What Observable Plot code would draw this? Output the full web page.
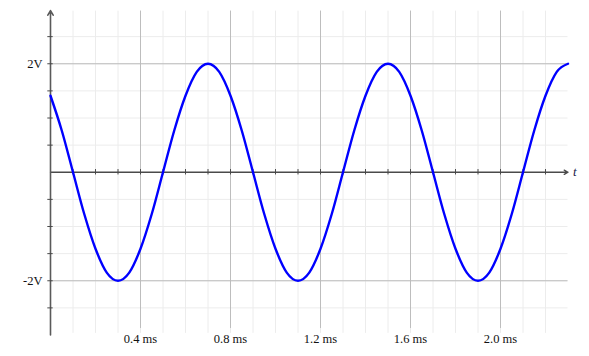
<!DOCTYPE html>
<html>
<head>
<meta charset="utf-8">
<script src="https://cdn.jsdelivr.net/npm/d3@7"></script>
<script src="https://cdn.jsdelivr.net/npm/@observablehq/plot@0.6"></script>
<style>
  html, body { margin: 0; padding: 0; background: white; }
  #chart svg { display: block; }
</style>
</head>
<body>
<div id="chart"></div>
<script>
// Time samples (ms) and voltage
const timeMs = [0, 0.05, 0.1, 0.15, 0.2, 0.25, 0.3, 0.35, 0.4, 0.45, 0.5, 0.55, 0.6, 0.65, 0.7, 0.75,
  0.8, 0.85, 0.9, 0.95, 1.0, 1.05, 1.1, 1.15, 1.2, 1.25, 1.3, 1.35, 1.4, 1.45, 1.5, 1.55,
  1.6, 1.65, 1.7, 1.75, 1.8, 1.85, 1.9, 1.95, 2.0, 2.05, 2.1, 2.15, 2.2, 2.25, 2.3];
const voltage = [1.41, 0.77, 0, -0.77, -1.41, -1.85, -2, -1.85, -1.41, -0.77, 0, 0.77, 1.41, 1.85, 2, 1.85,
  1.41, 0.77, 0, -0.77, -1.41, -1.85, -2, -1.85, -1.41, -0.77, 0, 0.77, 1.41, 1.85, 2, 1.85,
  1.41, 0.77, 0, -0.77, -1.41, -1.85, -2, -1.85, -1.41, -0.77, 0, 0.77, 1.41, 1.85, 2];

const xMajorTicks = [0.4, 0.8, 1.2, 1.6, 2.0];
const xTickLabels = ["0.4 ms", "0.8 ms", "1.2 ms", "1.6 ms", "2.0 ms"];
const xMinorTicks = [0.1, 0.2, 0.3, 0.4, 0.5, 0.6, 0.7, 0.8, 0.9, 1.0, 1.1, 1.2, 1.3, 1.4, 1.5, 1.6,
  1.7, 1.8, 1.9, 2.0, 2.1, 2.2];
const yMajorTicks = [2, -2];
const yTickLabels = ["2V", "-2V"];
const yMinorTicks = [-2.5, -2, -1.5, -1, -0.5, 0.5, 1, 1.5, 2, 2.5];
const xDomain = [0, 2.3];
const yDomain = [-3, 3];
const axisLabel = "t";

const data = timeMs.map((t, i) => ({t, v: voltage[i]}));

const chart = Plot.plot({
  width: 589,
  height: 356,
  marginLeft: 50,
  marginRight: 21.5,
  marginTop: 9,
  marginBottom: 21.5,
  x: {domain: xDomain, axis: null},
  y: {domain: yDomain, axis: null},
  style: {fontFamily: "'Liberation Serif', 'DejaVu Serif', serif", fontSize: "12.5px", background: "white", color: "#111", overflow: "visible"},
  marks: [
    // minor grid
    Plot.ruleX(xMinorTicks, {x: d => d, y1: -2.97, y2: 2.97, stroke: "#ececec", strokeWidth: 1}),
    Plot.ruleY(yMinorTicks, {y: d => d, x1: 0, x2: 2.3, stroke: "#ececec", strokeWidth: 1}),
    // major grid
    Plot.ruleX(xMajorTicks, {x: d => d, y1: -2.88, y2: 2.97, stroke: "#bdbdbd", strokeWidth: 1}),
    Plot.ruleY(yMajorTicks, {y: d => d, x1: 0, x2: 2.3, stroke: "#bdbdbd", strokeWidth: 1}),
    // axes with arrows
    Plot.arrow([0], {x1: xDomain[0], y1: 0, x2: xDomain[1], y2: 0, stroke: "#4a4a4a", strokeWidth: 1.3, headLength: 5}),
    Plot.arrow([0], {x1: 0, y1: yDomain[0], x2: 0, y2: yDomain[1] - 0.02, stroke: "#5a5a5a", strokeWidth: 1.6, headLength: 5}),
    // axis ticks
    Plot.ruleX(xMinorTicks, {x: d => d, y1: -0.05, y2: 0.05, stroke: "#4a4a4a", strokeWidth: 1}),
    Plot.ruleY(yMinorTicks, {y: d => d, x1: -0.012, x2: 0.012, stroke: "#4a4a4a", strokeWidth: 1}),
    // curve
    Plot.line(data, {x: "t", y: "v", curve: "monotone-x", stroke: "#0000ff", strokeWidth: 2.4}),
    // labels
    Plot.text(xMajorTicks, {x: d => d, y: -3.07, text: (d, i) => xTickLabels[i], textAnchor: "middle", lineAnchor: "middle", fill: "#111"}),
    Plot.text(yMajorTicks, {x: 0, y: d => d, text: (d, i) => yTickLabels[i], textAnchor: "end", dx: -8, fill: "#111"}),
    Plot.text([axisLabel], {x: xDomain[1], y: 0, text: d => d, textAnchor: "start", dx: 5, fontStyle: "italic", fontSize: 13, fill: "#1a1a4a"})
  ]
});
document.getElementById("chart").appendChild(chart);
</script>
</body>
</html>
